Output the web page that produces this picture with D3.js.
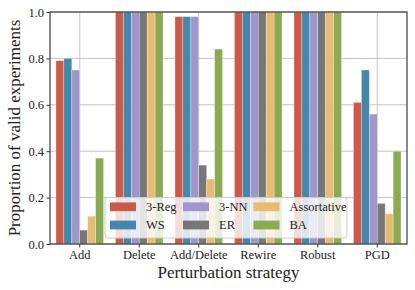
<!DOCTYPE html>
<html>
<head>
<meta charset="utf-8">
<script src="https://cdn.jsdelivr.net/npm/d3@7"></script>
<style>
  html, body { margin: 0; padding: 0; background: #fff; }
  svg { display: block; }
  text { font-family: "Liberation Serif", "DejaVu Serif", serif; fill: #222; }
</style>
</head>
<body>
<svg id="chart" width="415" height="290"></svg>
<script>
const categories = ["Add", "Delete", "Add/Delete", "Rewire", "Robust", "PGD"];
const seriesNames = ["3-Reg", "WS", "3-NN", "ER", "Assortative", "BA"];
const seriesColors = ["#CC5A49", "#4586AC", "#9F97CC", "#777777", "#E7BC72", "#8AAB51"];
const reg3 = [0.79, 1.0, 0.98, 1.0, 1.0, 0.61];
const ws = [0.80, 1.0, 0.98, 1.0, 1.0, 0.75];
const nn3 = [0.75, 1.0, 0.98, 1.0, 1.0, 0.56];
const er = [0.06, 1.0, 0.34, 1.0, 1.0, 0.175];
const assortative = [0.12, 1.0, 0.28, 1.0, 1.0, 0.13];
const ba = [0.37, 1.0, 0.84, 1.0, 1.0, 0.40];
const yTicks = [0.0, 0.2, 0.4, 0.6, 0.8, 1.0];
const xLabel = "Perturbation strategy";
const yLabel = "Proportion of valid experiments";

const seriesValues = [reg3, ws, nn3, er, assortative, ba];

const svg = d3.select("#chart");
const L = 50, R = 407, T = 12, B = 244;

const x = d3.scaleBand().domain(categories).range([L, R]).paddingInner(0).paddingOuter(0);
const xs = d3.scaleBand().domain(seriesNames).range([0, x.bandwidth() * 0.8]);
const y = d3.scaleLinear().domain([0, 1]).range([B, T]);

// grid
const grid = svg.append("g");
grid.selectAll("line.h").data(yTicks).join("line")
  .attr("x1", L).attr("x2", R)
  .attr("y1", d => y(d)).attr("y2", d => y(d))
  .attr("stroke", "#c4c4c4").attr("stroke-width", 1);
grid.selectAll("line.v").data(categories).join("line")
  .attr("x1", d => x(d) + x.bandwidth() / 2).attr("x2", d => x(d) + x.bandwidth() / 2)
  .attr("y1", T).attr("y2", B)
  .attr("stroke", "#c4c4c4").attr("stroke-width", 1);

// bars
const bars = svg.append("g");
seriesNames.forEach((s, si) => {
  bars.append("g").selectAll("rect").data(categories).join("rect")
    .attr("x", (c) => x(c) + x.bandwidth() * 0.1 + xs(s))
    .attr("width", xs.bandwidth())
    .attr("y", (c, i) => y(seriesValues[si][i]))
    .attr("height", (c, i) => B - y(seriesValues[si][i]))
    .attr("fill", seriesColors[si])
    .attr("stroke", "#ffffff").attr("stroke-opacity", 0.6).attr("stroke-width", 0.5);
});

// axes
const xAxis = svg.append("g").attr("transform", `translate(0,${B})`)
  .call(d3.axisBottom(x).tickSize(3.5).tickPadding(2.6).tickSizeOuter(0));
const yAxis = svg.append("g").attr("transform", `translate(${L},0)`)
  .call(d3.axisLeft(y).tickValues(yTicks).tickFormat(d3.format(".1f")).tickSize(3.5).tickPadding(2.5).tickSizeOuter(0));
[xAxis, yAxis].forEach(a => {
  a.select(".domain").remove();
  a.selectAll(".tick line").attr("stroke", "#333").attr("stroke-width", 1);
  a.selectAll(".tick text").attr("font-family", "Liberation Serif").attr("font-size", 12.5).attr("fill", "#222");
});

// spines
svg.append("rect").attr("x", L).attr("y", T).attr("width", R - L).attr("height", B - T)
  .attr("fill", "none").attr("stroke", "#444").attr("stroke-width", 1.25);

// labels
svg.append("text").attr("x", (L + R) / 2).attr("y", 278).attr("text-anchor", "middle")
  .attr("font-size", 17).text(xLabel);
svg.append("text").attr("transform", `translate(19.5,${(T + B) / 2}) rotate(-90)`)
  .attr("text-anchor", "middle").attr("font-size", 17).text(yLabel);

// legend
const lg = svg.append("g");
lg.append("rect").attr("x", 105).attr("y", 197.5).attr("width", 242).attr("height", 40.5)
  .attr("rx", 3).attr("fill", "#fff").attr("fill-opacity", 0.8)
  .attr("stroke", "#cccccc").attr("stroke-width", 1);
const colX = [110, 183, 253.5];
const rowY = [206.8, 225];
seriesNames.forEach((s, i) => {
  const cx = colX[Math.floor(i / 2)], cy = rowY[i % 2];
  lg.append("rect").attr("x", cx).attr("y", cy - 4.4).attr("width", 26).attr("height", 8.8)
    .attr("fill", seriesColors[i]);
  lg.append("text").attr("x", cx + 36).attr("y", cy).attr("dy", "0.35em")
    .attr("font-size", 12.5).text(s);
});
</script>
</body>
</html>
